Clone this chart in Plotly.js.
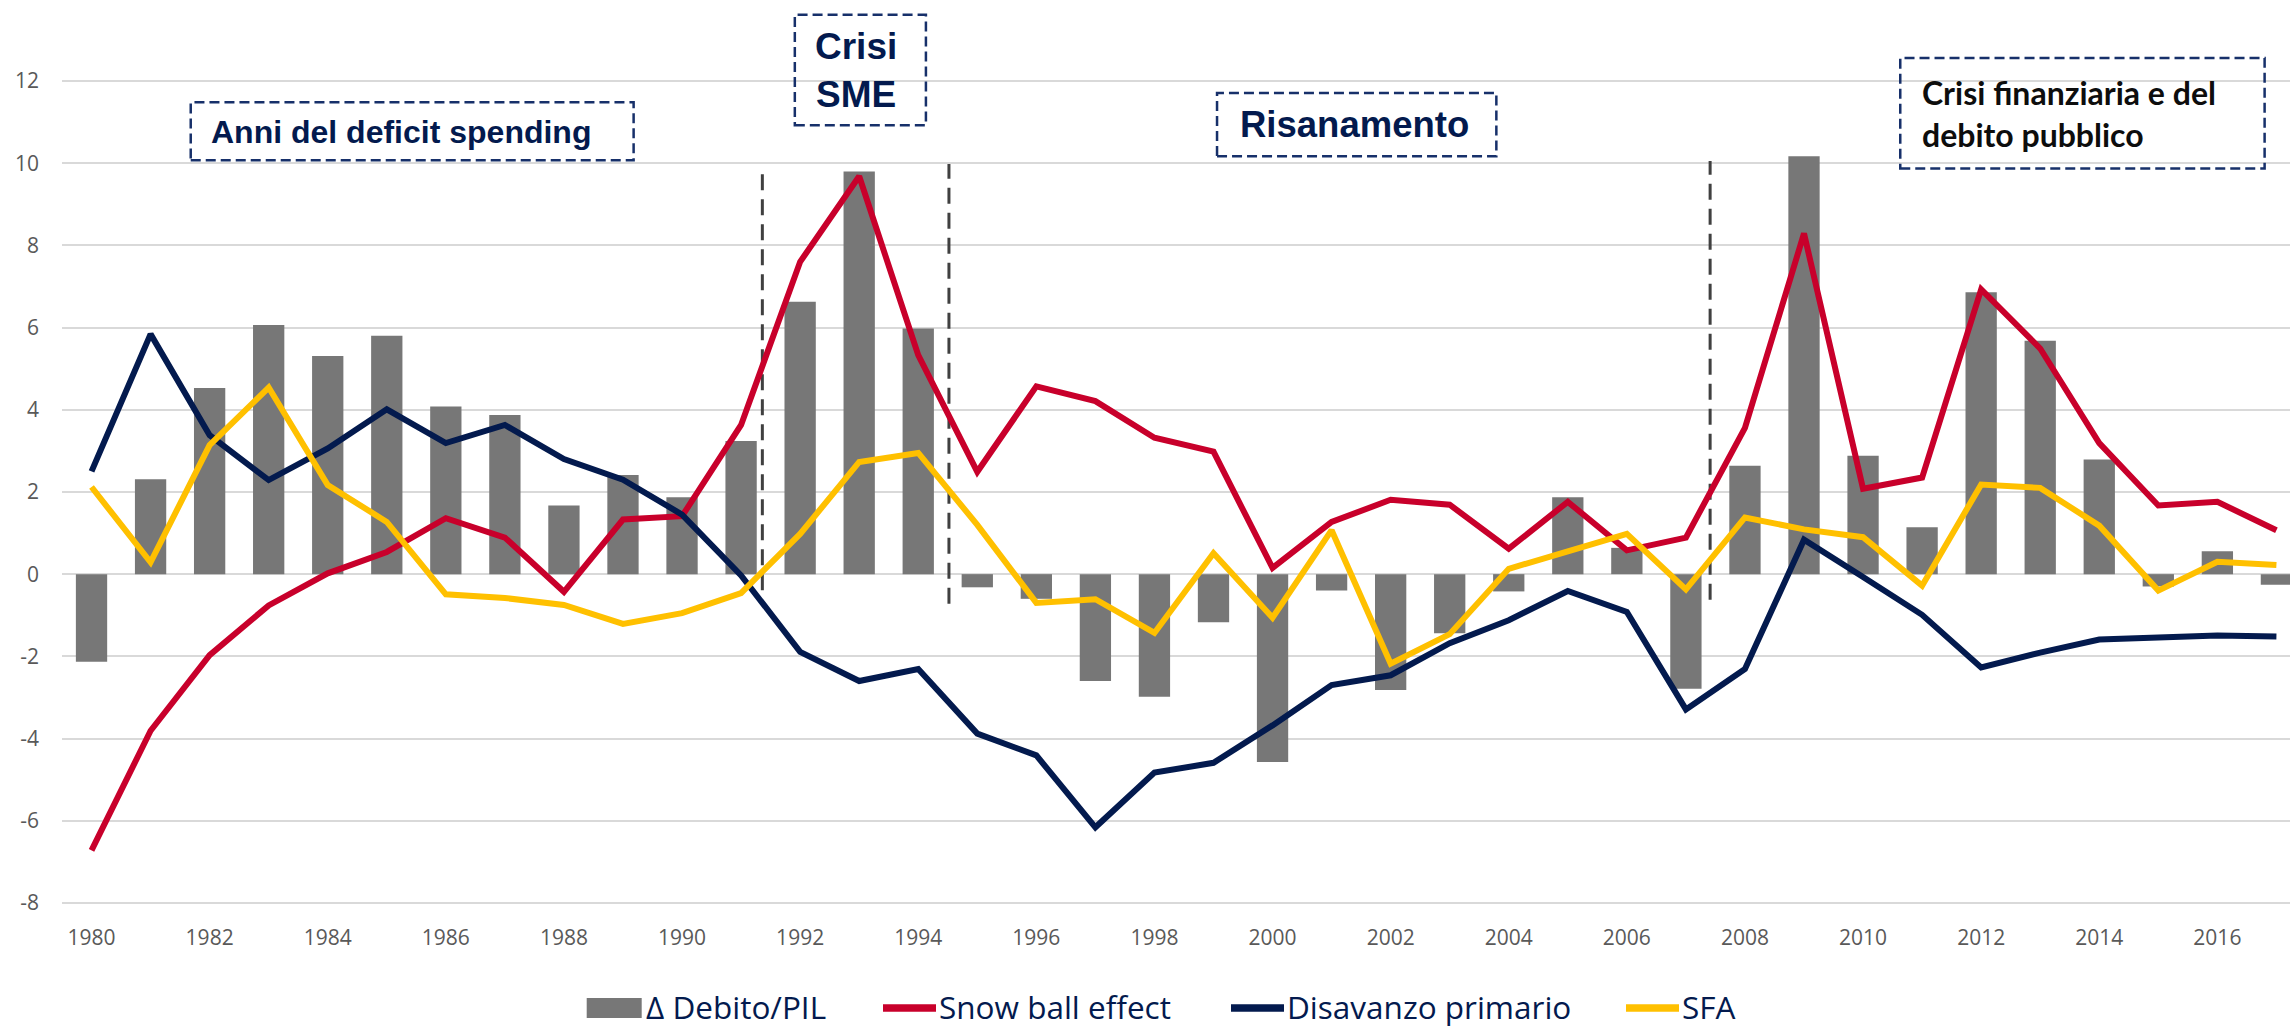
<!DOCTYPE html>
<html>
<head>
<meta charset="utf-8">
<script src="https://cdn.plot.ly/plotly-3.0.1.min.js"></script>
<style>
  html, body { margin: 0; padding: 0; background: #ffffff; }
  #chart { width: 2290px; height: 1027px; }
</style>
</head>
<body>
<div id="chart"></div>
<script>
// ---- Data ----
const years = [1980,1981,1982,1983,1984,1985,1986,1987,1988,1989,1990,1991,1992,1993,1994,1995,1996,1997,1998,1999,2000,2001,2002,2003,2004,2005,2006,2007,2008,2009,2010,2011,2012,2013,2014,2015,2016,2017];

const deltaDebito = [-2.13,2.31,4.53,6.06,5.31,5.80,4.08,3.87,1.67,2.41,1.87,3.24,6.63,9.80,5.98,-0.32,-0.60,-2.60,-2.98,-1.17,-4.57,-0.40,-2.82,-1.44,-0.42,1.87,0.64,-2.79,2.64,10.17,2.88,1.14,6.86,5.68,2.79,-0.30,0.56,-0.26];

const snowBall = [-6.72,-3.81,-1.97,-0.76,0.02,0.54,1.36,0.89,-0.43,1.33,1.41,3.63,7.60,9.68,5.33,2.49,4.57,4.21,3.32,2.98,0.15,1.27,1.81,1.69,0.62,1.76,0.58,0.89,3.56,8.29,2.08,2.35,6.93,5.49,3.19,1.67,1.76,1.07];

const disavanzoPrimario = [2.50,5.84,3.38,2.29,3.06,4.01,3.19,3.63,2.80,2.30,1.45,-0.03,-1.89,-2.60,-2.31,-3.88,-4.41,-6.16,-4.83,-4.59,-3.68,-2.70,-2.46,-1.68,-1.12,-0.41,-0.92,-3.29,-2.31,0.84,-0.07,-0.99,-2.27,-1.91,-1.59,-1.55,-1.49,-1.52];

const sfa = [2.12,0.29,3.14,4.54,2.17,1.27,-0.49,-0.58,-0.75,-1.21,-0.95,-0.46,0.98,2.73,2.95,1.20,-0.70,-0.61,-1.43,0.51,-1.06,1.07,-2.18,-1.46,0.13,0.56,0.98,-0.37,1.38,1.09,0.90,-0.28,2.18,2.10,1.18,-0.40,0.30,0.22];

const seriesNames = ["\u0394 Debito/PIL", "Snow ball effect", "Disavanzo primario", "SFA"];

const xTickVals = [1980,1982,1984,1986,1988,1990,1992,1994,1996,1998,2000,2002,2004,2006,2008,2010,2012,2014,2016];
const xTickText = xTickVals.map(String);
const yTickVals = [-8,-6,-4,-2,0,2,4,6,8,10,12];
const yTickText = yTickVals.map(String);

// Period labels
const periodTexts = ["Anni del deficit spending", "Crisi<br>SME", "Risanamento", "Crisi finanziaria e del<br>debito pubblico"];
// Phase separators (years between categories)
const separators = [1991.36, 1994.52, 2007.41];

// ---- Styles ----
const NAVY = "#031A4E";
const RED = "#C8002B";
const YELLOW = "#FFC000";
const GREY = "#777777";
const seriesColors = [GREY, RED, NAVY, YELLOW];

const W = 2290, H = 1027;
const M = { l: 62, r: 0, t: 0, b: 122 };
const plotW = W - M.l - M.r, plotH = H - M.t - M.b;
const px2x = p => (p - M.l) / plotW;          // pixel -> paper x
const px2y = p => (H - M.b - p) / plotH;      // pixel -> paper y

const traces = [
  { type: "bar", x: years, y: deltaDebito, name: seriesNames[0],
    marker: { color: GREY }, width: 0.53 },
  { type: "scatter", mode: "lines", x: years, y: snowBall, name: seriesNames[1],
    line: { color: RED, width: 6 } },
  { type: "scatter", mode: "lines", x: years, y: disavanzoPrimario, name: seriesNames[2],
    line: { color: NAVY, width: 6 } },
  { type: "scatter", mode: "lines", x: years, y: sfa, name: seriesNames[3],
    line: { color: YELLOW, width: 6 } }
];

const shapes = [];
const sepBottoms = [-0.39, -0.72, -0.62];
const sepTops = [9.93, 9.98, 10.05];
separators.forEach((sx, i) => {
  shapes.push({ type: "line", xref: "x", yref: "y", x0: sx, x1: sx, y0: sepBottoms[i], y1: sepTops[i],
    line: { color: "#404040", width: 3, dash: "16px,9px" }, layer: "between" });
});

const boxes = [
  [1981.68, 1989.18, 10.07, 11.48],
  [1991.91, 1994.13, 10.92, 13.61],
  [1999.06, 2003.79, 10.17, 11.71],
  [2010.63, 2016.80, 9.87, 12.56]
];
boxes.forEach(b => {
  shapes.push({ type: "rect", xref: "x", yref: "y", x0: b[0], x1: b[1], y0: b[2], y1: b[3],
    line: { color: "#17306A", width: 2.5, dash: "10px,5px" }, fillcolor: "rgba(0,0,0,0)", layer: "above" });
});

const annotations = [
  { x: 1985.24, y: 10.76, text: periodTexts[0], xanchor: "center", yanchor: "middle",
    font: { family: "Liberation Sans, Arial, sans-serif", size: 32, color: NAVY, weight: 700 } },
  { x: 1992.95, y: 12.26, text: periodTexts[1], xanchor: "center", yanchor: "middle",
    font: { family: "Liberation Sans, Arial, sans-serif", size: 37, color: NAVY, weight: 700 } },
  { x: 2001.39, y: 10.94, text: periodTexts[2], xanchor: "center", yanchor: "middle",
    font: { family: "Liberation Sans, Arial, sans-serif", size: 36.5, color: NAVY, weight: 700 } },
  { x: 2010.97, y: 11.2, text: periodTexts[3], xanchor: "left", yanchor: "middle", align: "left",
    font: { family: "Lato, sans-serif", size: 32, color: "#0D0D0D", weight: 700 } }
].map(a => Object.assign({ xref: "x", yref: "y", showarrow: false }, a));

// ---- Legend (drawn at the bottom, centred row) ----
const legY = 1008;
const legItems = [
  { kind: "box",  x0: 586.7, x1: 641.7, tx: 644 },
  { kind: "line", x0: 883,   x1: 936,   tx: 937 },
  { kind: "line", x0: 1231,  x1: 1284,  tx: 1285 },
  { kind: "line", x0: 1626,  x1: 1679,  tx: 1680 }
];
legItems.forEach((it, i) => {
  if (it.kind === "box") {
    shapes.push({ type: "rect", xref: "paper", yref: "paper",
      x0: px2x(it.x0), x1: px2x(it.x1), y0: px2y(legY + 10), y1: px2y(legY - 10),
      line: { width: 0 }, fillcolor: seriesColors[i], layer: "above" });
  } else {
    shapes.push({ type: "line", xref: "paper", yref: "paper",
      x0: px2x(it.x0), x1: px2x(it.x1), y0: px2y(legY), y1: px2y(legY),
      line: { color: seriesColors[i], width: 7.5 }, layer: "above" });
  }
  annotations.push({ xref: "paper", yref: "paper", x: px2x(it.tx), y: px2y(legY - 2),
    xanchor: "left", yanchor: "middle", showarrow: false, text: seriesNames[i],
    font: { family: "Open Sans, sans-serif", size: 31.5, color: NAVY } });
});

const layout = {
  width: W, height: H,
  margin: { l: M.l, r: M.r, t: M.t, b: M.b, pad: 0 },
  paper_bgcolor: "#ffffff", plot_bgcolor: "#ffffff",
  showlegend: false,
  hovermode: false,
  bargap: 0.47,
  font: { family: "Open Sans, sans-serif", color: "#595959" },
  xaxis: {
    range: [1979.5, 2017.23],
    tickvals: xTickVals, ticktext: xTickText,
    showgrid: false, zeroline: false, showline: false, ticks: "",
    tickfont: { family: "Open Sans, sans-serif", size: 21, color: "#595959" },
    ticklabelstandoff: 18
  },
  yaxis: {
    range: [-8.05, 13.97],
    tickvals: yTickVals, ticktext: yTickText,
    showgrid: true, gridcolor: "#D9D9D9", gridwidth: 2,
    zeroline: false, showline: false, ticks: "",
    tickfont: { family: "Open Sans, sans-serif", size: 21, color: "#595959" },
    ticklabelstandoff: 22
  },
  shapes: shapes,
  annotations: annotations
};

Plotly.newPlot("chart", traces, layout, { staticPlot: true, displayModeBar: false });
</script>
</body>
</html>
